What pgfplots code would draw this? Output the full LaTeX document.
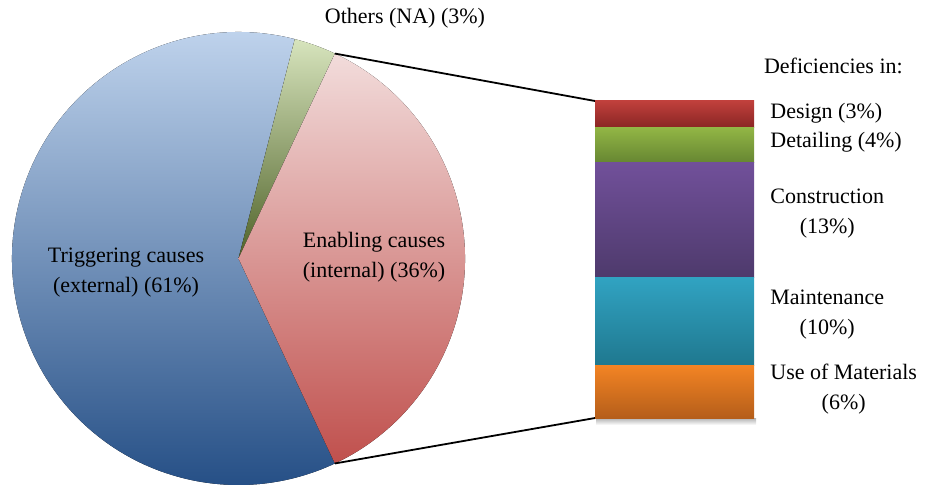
\documentclass[border=0pt]{standalone}
\usepackage{fontspec}
\setmainfont{Liberation Serif}
\usepackage{pgfplots}
\pgfplotsset{compat=1.18}

% slice colours (light top -> dark bottom)
\definecolor{trigTop}{HTML}{C6D9F1}
\definecolor{trigMid}{HTML}{95B3D7}
\definecolor{trigBot}{HTML}{244E85}
\definecolor{enabTop}{HTML}{F2DCDB}
\definecolor{enabMid}{HTML}{DB9694}
\definecolor{enabBot}{HTML}{C0504D}
\definecolor{othTop}{HTML}{D7E4BD}
\definecolor{othMid}{HTML}{9BBB59}
\definecolor{othBot}{HTML}{4F6228}
% bar segment colours
\definecolor{desTop}{HTML}{C0403C}
\definecolor{desBot}{HTML}{8A2624}
\definecolor{detTop}{HTML}{92B645}
\definecolor{detBot}{HTML}{668632}
\definecolor{conTop}{HTML}{71509A}
\definecolor{conBot}{HTML}{4E3A6C}
\definecolor{maiTop}{HTML}{31A3C2}
\definecolor{maiBot}{HTML}{1F788F}
\definecolor{matTop}{HTML}{F38424}
\definecolor{matBot}{HTML}{B55E1A}

% pie shares in percent
\def\trig{61}
\def\enab{36}
\def\oth{3}
% split of the enabling causes in percent
\def\des{3}
\def\det{4}
\def\con{13}
\def\mai{10}
\def\mat{6}

\pgfmathsetmacro{\aE}{\enab*1.8}       % enabling slice is centred on the right
\pgfmathsetmacro{\aO}{\aE+\oth*3.6}
\pgfmathsetmacro{\aT}{\aO+\trig*3.6}
\def\R{113.25pt}

\begin{document}
\begin{tikzpicture}[font=\fontsize{11}{15}\selectfont]
\useasboundingbox (0,0) rectangle (464.5pt,244pt);
\begin{axis}[at={(0,0)},anchor=south west,scale only axis,
  width=464.5pt,height=244pt,xmin=0,xmax=929,ymin=0,ymax=488,
  y dir=reverse,hide axis,clip=false]
  % soft shadow under the bar
  \fill[top color=black!30,bottom color=white] (axis cs:596,418) rectangle (axis cs:756,425);
  % triggering causes
  \fill[top color=trigTop,middle color=trigMid,bottom color=trigBot]
    (axis cs:238.5,258.5) -- ++(\aO:\R) arc[start angle=\aO,end angle=\aT,radius=\R] -- cycle;
  % others
  \fill[top color=othTop,middle color=othMid,bottom color=othBot]
    (axis cs:238.5,258.5) -- ++(\aE:\R) arc[start angle=\aE,end angle=\aO,radius=\R] -- cycle;
  % enabling causes
  \fill[top color=enabTop,middle color=enabMid,bottom color=enabBot]
    (axis cs:238.5,258.5) -- ++(\aE:\R) arc[start angle=\aE,end angle=-\aE,radius=\R] -- cycle;
  % connectors to the bar
  \draw[line width=0.9pt] (axis cs:238.5,258.5) ++(\aE:\R) -- (axis cs:595,101);
  \draw[line width=0.9pt] (axis cs:238.5,258.5) ++(-\aE:\R) -- (axis cs:595,418);
  % labels
  \node[align=center] at (axis cs:126,273) {Triggering causes\\(external) (61\%)};
  \node[align=center] at (axis cs:374,257) {Enabling causes\\(internal) (36\%)};
  \node at (axis cs:405,18) {Others (NA) (3\%)};
  \node[anchor=west] at (axis cs:757,66) {Deficiencies in:};
  \node[anchor=west,inner sep=0pt] at (axis cs:770,113) {Design (3\%)};
  \node[anchor=west,inner sep=0pt] at (axis cs:770,142) {Detailing (4\%)};
  \node[anchor=west,align=center,inner sep=0pt] at (axis cs:770,214) {Construction\\(13\%)};
  \node[anchor=west,align=center,inner sep=0pt] at (axis cs:770,315) {Maintenance\\(10\%)};
  \node[anchor=west,align=center,inner sep=0pt] at (axis cs:770,389) {Use of Materials\\(6\%)};
\end{axis}
\begin{axis}[at={(297.5pt,35pt)},anchor=south west,scale only axis,
  width=79.5pt,height=158.5pt,xmin=-0.5,xmax=0.5,ymin=0,ymax=36,
  hide axis,ybar stacked,bar width=79.5pt,clip=false]
  \addplot[draw=none,top color=matTop,bottom color=matBot] coordinates {(0,\mat)};
  \addplot[draw=none,top color=maiTop,bottom color=maiBot] coordinates {(0,\mai)};
  \addplot[draw=none,top color=conTop,bottom color=conBot] coordinates {(0,\con)};
  \addplot[draw=none,top color=detTop,bottom color=detBot] coordinates {(0,\det)};
  \addplot[draw=none,top color=desTop,bottom color=desBot] coordinates {(0,\des)};
\end{axis}
\end{tikzpicture}
\end{document}
